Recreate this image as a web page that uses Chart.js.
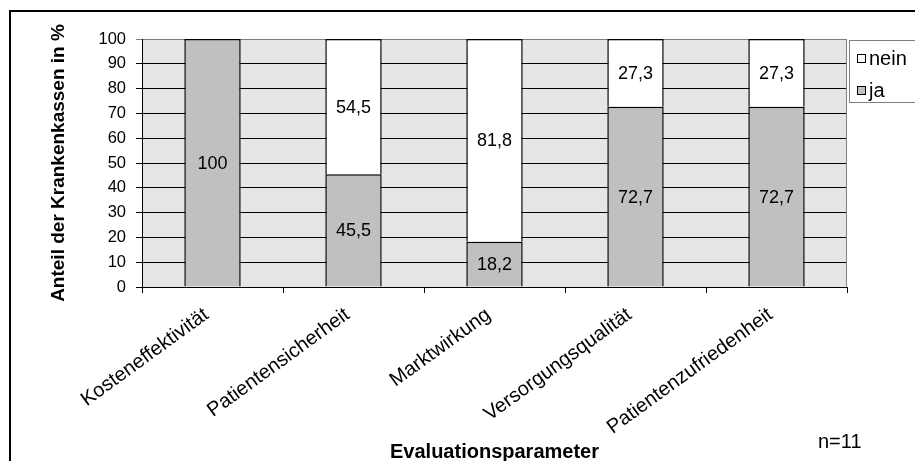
<!DOCTYPE html>
<html>
<head>
<meta charset="utf-8">
<script src="https://cdn.jsdelivr.net/npm/chart.js@4.4.1/dist/chart.umd.min.js"></script>
<style>
    html, body { margin: 0; padding: 0; background: #fff; overflow: hidden; }
    #rahmen { position: absolute; left: 9px; top: 10px; width: 930px; height: 470px;
              border-left: 2px solid #000; border-top: 2px solid #000; }
    #grafica { position: absolute; left: 0; top: 0; }
</style>
</head>
<body>
<div id="rahmen"></div>
<canvas id="grafica" width="915" height="470"></canvas>
<script>
// Kategorien und Werte (Anteil in %)
const kategorien = ['Kosteneffektivität', 'Patientensicherheit', 'Marktwirkung', 'Versorgungsqualität', 'Patientenzufriedenheit'];
const werteJa = [100, 45.5, 18.2, 72.7, 72.7];
const werteNein = [0, 54.5, 81.8, 27.3, 27.3];
const yMin = 0;
const yMax = 100;
const ySchritt = 10;
const stichprobe = 'n=11';

const schrift = '"Liberation Sans", Arial, sans-serif';

// Hintergrund der Zeichenfläche (grau wie in Excel)
const hintergrund = {
    id: 'hintergrund',
    beforeDraw(chart) {
        const { ctx, chartArea: a } = chart;
        ctx.save();
        ctx.fillStyle = '#e6e6e6';
        ctx.fillRect(a.left, a.top, a.right - a.left, a.bottom - a.top);
        ctx.restore();
    }
};

// Werte in die Balken schreiben, Legende und n zeichnen
const beschriftung = {
    id: 'beschriftung',
    afterDatasetsDraw(chart) {
        const ctx = chart.ctx;
        ctx.save();
        ctx.font = '18px ' + schrift;
        ctx.fillStyle = '#000';
        ctx.textAlign = 'center';
        ctx.textBaseline = 'middle';
        chart.data.datasets.forEach((ds, i) => {
            chart.getDatasetMeta(i).data.forEach((bar, j) => {
                const v = ds.data[j];
                if (!v) return;
                const p = bar.getCenterPoint();
                ctx.fillText(String(v).replace('.', ','), p.x, p.y + 1);
            });
        });
        ctx.restore();
    },
    afterDraw(chart) {
        const { ctx, chartArea: a } = chart;
        ctx.save();
        // rechter Rand der Zeichenfläche
        ctx.strokeStyle = '#808080';
        ctx.lineWidth = 1;
        ctx.beginPath();
        ctx.moveTo(a.right - 0.5, a.top);
        ctx.lineTo(a.right - 0.5, a.bottom);
        ctx.stroke();

        // Legende (nein oben, ja unten)
        ctx.fillStyle = '#fff';
        ctx.fillRect(849, 40, 70, 63);
        ctx.strokeStyle = '#808080';
        ctx.strokeRect(849.5, 40.5, 70, 62);
        const eintraege = [chart.data.datasets[1], chart.data.datasets[0]];
        ctx.font = '20px ' + schrift;
        ctx.textBaseline = 'middle';
        eintraege.forEach((ds, i) => {
            const y = 58 + i * 32;
            ctx.fillStyle = ds.backgroundColor;
            ctx.fillRect(857, y - 4, 9, 9);
            ctx.strokeStyle = '#000';
            ctx.strokeRect(857.5, y - 3.5, 8, 8);
            ctx.fillStyle = '#000';
            ctx.fillText(ds.label, 869, y + 1);
        });

        ctx.font = '20px ' + schrift;
        ctx.textBaseline = 'alphabetic';
        ctx.fillText(stichprobe, 818, 448);
        ctx.restore();
    }
};

const ctx = document.getElementById('grafica').getContext('2d');
new Chart(ctx, {
    type: 'bar',
    data: {
        labels: kategorien,
        datasets: [{
            label: 'ja',
            data: werteJa,
            backgroundColor: '#c0c0c0',
            borderColor: '#000',
            borderWidth: 1.5,
            barPercentage: 0.4,
            categoryPercentage: 1
        }, {
            label: 'nein',
            data: werteNein,
            backgroundColor: '#ffffff',
            borderColor: '#000',
            borderWidth: 1.5,
            barPercentage: 0.4,
            categoryPercentage: 1
        }]
    },
    options: {
        responsive: false,
        animation: false,
        layout: { padding: { top: 39, right: 68, left: 0, bottom: 0 } },
        plugins: {
            legend: { display: false },
            tooltip: { enabled: false }
        },
        scales: {
            x: {
                stacked: true,
                grid: {
                    offset: true,
                    drawOnChartArea: false,
                    drawTicks: true,
                    tickLength: 6,
                    color: '#000'
                },
                border: { color: '#000', width: 1 },
                ticks: {
                    color: '#000',
                    font: { family: schrift, size: 20 },
                    maxRotation: 36,
                    minRotation: 36,
                    autoSkip: false,
                    padding: 10,
                    labelOffset: -6
                },
                title: {
                    display: true,
                    text: 'Evaluationsparameter',
                    color: '#000',
                    font: { family: schrift, size: 20, weight: 'bold' },
                    padding: { top: 0, bottom: 6 }
                },
                afterFit(scale) { scale.height = 470 - 287; }
            },
            y: {
                stacked: true,
                min: yMin,
                max: yMax,
                grid: {
                    color: c => (c.tick && c.tick.value === yMax ? '#808080' : '#000'),
                    tickLength: 6,
                    lineWidth: 1
                },
                border: { color: '#000', width: 1 },
                ticks: {
                    stepSize: ySchritt,
                    color: '#000',
                    font: { family: schrift, size: 16.5 },
                    padding: 10
                },
                title: {
                    display: true,
                    text: 'Anteil der Krankenkassen in %',
                    color: '#000',
                    font: { family: schrift, size: 19, weight: 'bold' },
                    padding: { top: 47, bottom: 0 }
                },
                afterFit(scale) { scale.width = 142; }
            }
        }
    },
    plugins: [hintergrund, beschriftung]
});
</script>
</body>
</html>
